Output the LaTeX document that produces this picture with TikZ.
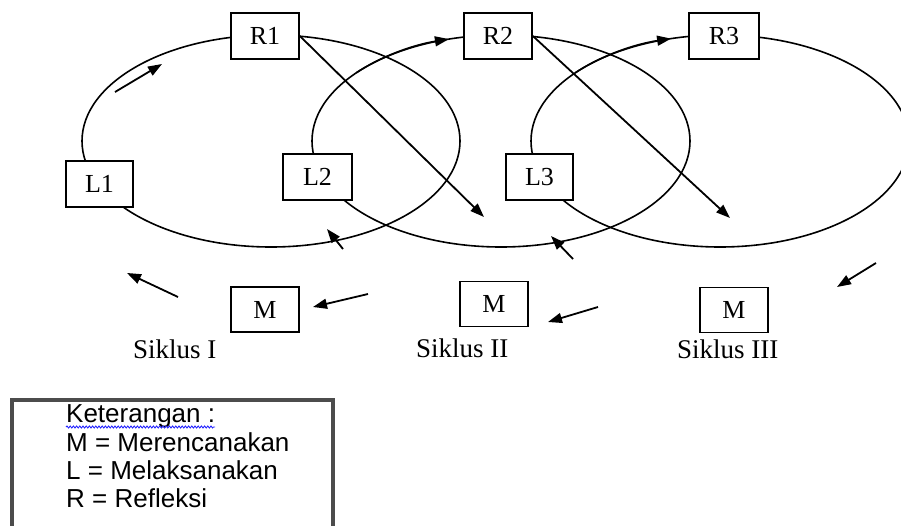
\documentclass[tikz,border=0pt]{standalone}
\usepackage{fontspec}
\setmainfont{Liberation Serif}
\newfontfamily\legendfont{Liberation Sans}
\usetikzlibrary{arrows.meta,decorations.pathmorphing}
\begin{document}
\begin{tikzpicture}[x=1pt,y=1pt,
  cyc/.style={line width=1.6pt},
  box/.style={draw, line width=1.7pt, fill=white, minimum width=68pt, minimum height=46pt, inner sep=0pt, font=\fontsize{26}{30}\selectfont},
  tip/.style={-{Triangle[length=14pt,width=10pt]}},
  arr/.style={line width=1.8pt, tip},
  lbl/.style={anchor=base west, inner sep=0pt, font=\fontsize{27}{31}\selectfont},
  leg/.style={anchor=base west, inner sep=0pt, font=\legendfont\fontsize{26}{30}\selectfont}
]
\useasboundingbox (0,0) rectangle (901,-525);
\begin{scope}
\clip (0,0) rectangle (901,-525);
% cycles
\draw[cyc] (271,-141) ellipse [x radius=189, y radius=106];
\draw[cyc] (501,-141) ellipse [x radius=189, y radius=106];
\draw[cyc] (720,-141) ellipse [x radius=189, y radius=106];
\draw[cyc,tip] (501,-141) ++(140:189 and 106) arc [start angle=140, end angle=106, x radius=189, y radius=106];
\draw[cyc,tip] (720,-141) ++(140:189 and 106) arc [start angle=140, end angle=105, x radius=189, y radius=106];
\end{scope}
% boxes
\node[box] (R1) at (265,-36) {R1};
\node[box] (R2) at (498,-36) {R2};
\node[box, minimum width=70pt] (R3) at (724,-36) {R3};
\node[box, minimum width=67pt] (L1) at (99.5,-184) {L1};
\node[box, minimum width=69pt] (L2) at (317.5,-177) {L2};
\node[box, minimum width=67pt] (L3) at (539.5,-177) {L3};
\node[box, minimum height=45pt] (M1) at (265,-309.5) {M};
\node[box, minimum height=45pt] (M2) at (494,-304) {M};
\node[box, minimum height=45pt] (M3) at (734,-310) {M};
% diagonal arrows from reflection
\coordinate (t1) at (484,-217);
\coordinate (t2) at (730,-218);
\draw[arr] (R1.east) -- (t1);
\draw[arr] (R2.east) -- (t2);
% free arrows
\coordinate (a1s) at (115,-92);  \coordinate (a1e) at (162,-64);
\coordinate (a2s) at (343,-249); \coordinate (a2e) at (327,-229);
\coordinate (a3s) at (573,-259); \coordinate (a3e) at (551,-236);
\coordinate (a4s) at (178,-297); \coordinate (a4e) at (127,-273);
\coordinate (a5s) at (368,-294); \coordinate (a5e) at (313,-307);
\coordinate (a6s) at (598,-307); \coordinate (a6e) at (548,-322);
\coordinate (a7s) at (876,-263); \coordinate (a7e) at (837,-287);
\foreach \i in {1,...,7} {\draw[arr] (a\i s) -- (a\i e);}
% labels
\node[lbl] (s1) at (133,-358) {Siklus I};
\node[lbl] (s2) at (416,-357) {Siklus II};
\node[lbl] (s3) at (677,-358) {Siklus III};
% legend
\draw[line width=3.6pt, draw=black!70] (12,-530) -- (12,-400) -- (333,-400) -- (333,-530);
\node[leg] (k0) at (66,-422) {Keterangan :};
\node[leg] (k1) at (66,-451) {M = Merencanakan};
\node[leg] (k2) at (66,-479) {L = Melaksanakan};
\node[leg] (k3) at (66,-507) {R = Refleksi};
\draw[blue!85, line width=0.9pt, decorate, decoration={snake, amplitude=1pt, segment length=3.2pt}] (k0.base west) ++(0,-5) -- ++(149,0);
\end{tikzpicture}
\end{document}
